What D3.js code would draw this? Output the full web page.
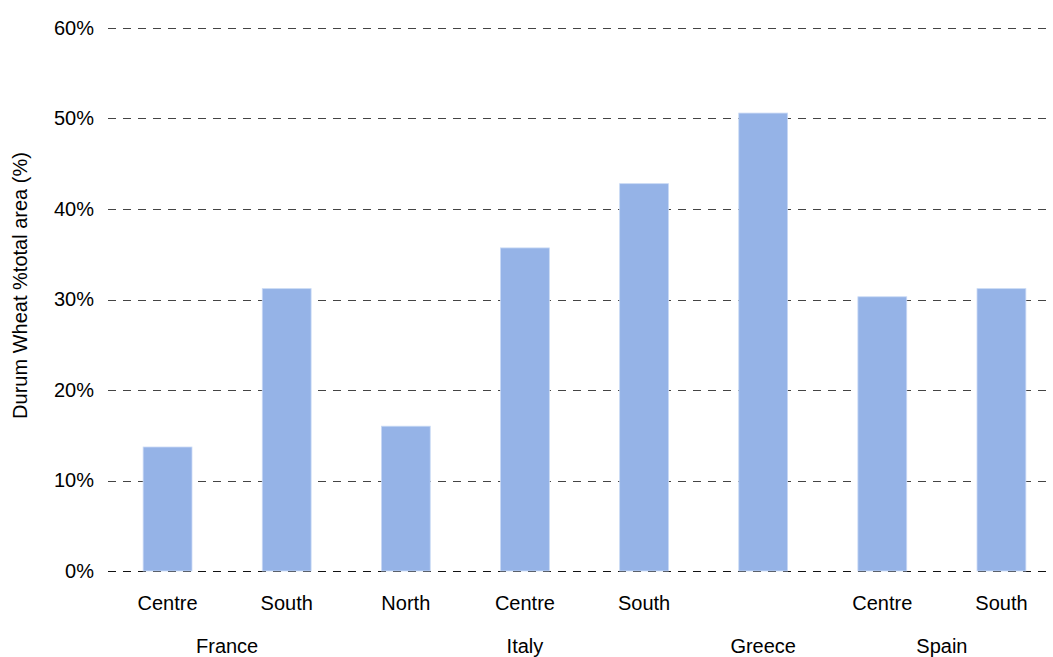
<!DOCTYPE html>
<html>
<head>
<meta charset="utf-8">
<script src="https://cdn.jsdelivr.net/npm/d3@7"></script>
<style>
  html, body { margin: 0; padding: 0; background: #fff; }
  svg { display: block; }
  text { font-family: "Liberation Sans", Arial, sans-serif; fill: #000; }
</style>
</head>
<body>
<svg id="chart" width="1053" height="657"></svg>
<script>
// Durum wheat share of total area by region
const regions   = ["Centre", "South", "North", "Centre", "South", "", "Centre", "South"];
const countries = ["France", "France", "Italy", "Italy", "Italy", "Greece", "Spain", "Spain"];
const shares    = [13.7, 31.2, 16.0, 35.7, 42.8, 50.6, 30.3, 31.2];
const yTicks    = [0, 10, 20, 30, 40, 50, 60];
const groups    = ["France", "Italy", "Greece", "Spain"];

const svg = d3.select("#chart");
const margin = { left: 108, top: 28, bottom: 86 };
const H = 657;
const plotRight = 1061;
const fontSize = 20;

const idx = d3.range(shares.length);
const x = d3.scaleBand().domain(idx).range([margin.left, plotRight]).paddingInner(0.59).paddingOuter(0.295);
const y = d3.scaleLinear().domain([0, 60]).range([H - margin.bottom, margin.top]);

// horizontal dashed gridlines
svg.append("g")
  .selectAll("line")
  .data(yTicks)
  .join("line")
  .attr("x1", margin.left)
  .attr("x2", plotRight)
  .attr("y1", d => Math.round(y(d)) + 0.5)
  .attr("y2", d => Math.round(y(d)) + 0.5)
  .attr("stroke", d => d === 0 ? "#111" : "#444")
  .attr("stroke-width", 1.1)
  .attr("stroke-dasharray", "8,7");

// y-axis tick labels
const yAxis = d3.axisLeft(y).tickValues(yTicks).tickFormat(d => d + "%").tickSize(0).tickPadding(0);
const gy = svg.append("g").attr("transform", `translate(${margin.left - 14},0)`).call(yAxis);
gy.select(".domain").remove();
gy.selectAll("text").attr("font-size", fontSize).attr("font-family", "Liberation Sans, Arial, sans-serif").attr("fill", "#000");

// bars
svg.append("g")
  .selectAll("rect")
  .data(idx)
  .join("rect")
  .attr("x", i => x(i))
  .attr("width", x.bandwidth())
  .attr("y", i => y(shares[i]))
  .attr("height", i => y(0) - y(shares[i]))
  .attr("fill", "#95b3e7")
  .attr("stroke", "#c9d9f5")
  .attr("stroke-width", 0.8);

// region labels
svg.append("g")
  .selectAll("text")
  .data(idx)
  .join("text")
  .attr("x", i => x(i) + x.bandwidth() / 2)
  .attr("y", 610)
  .attr("text-anchor", "middle")
  .attr("font-size", fontSize)
  .text(i => regions[i]);

// country labels, centred under their regions
svg.append("g")
  .selectAll("text")
  .data(groups)
  .join("text")
  .attr("x", g => {
    const members = idx.filter(i => countries[i] === g);
    return d3.mean(members, i => x(i) + x.bandwidth() / 2);
  })
  .attr("y", 653)
  .attr("text-anchor", "middle")
  .attr("font-size", fontSize)
  .text(g => g);

// y-axis title
svg.append("text")
  .attr("transform", `translate(27,${(y(0) + y(60)) / 2 - 14}) rotate(-90)`)
  .attr("text-anchor", "middle")
  .attr("font-size", fontSize)
  .text("Durum Wheat %total area (%)");
</script>
</body>
</html>
